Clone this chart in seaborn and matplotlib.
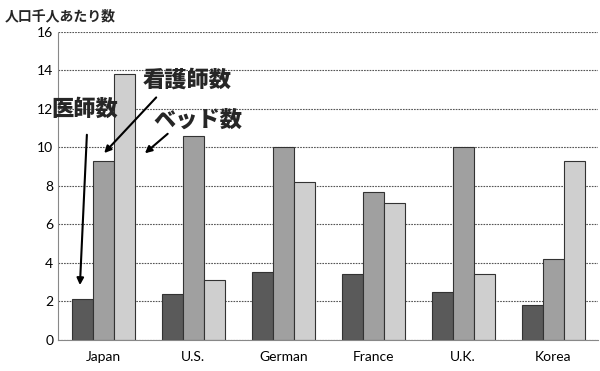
import matplotlib
matplotlib.use('Agg')
import matplotlib.pyplot as plt
import pandas as pd
import seaborn as sns

countries = ['Japan', 'U.S.', 'German', 'France', 'U.K.', 'Korea']
doctors = [2.1, 2.4, 3.5, 3.4, 2.5, 1.8]
nurses = [9.3, 10.6, 10.0, 7.7, 10.0, 4.2]
beds = [13.8, 3.1, 8.2, 7.1, 3.4, 9.3]
series = ['医師数', '看護師数', 'ベッド数']

df = pd.DataFrame({'country': countries * 3,
                   'kind': [series[0]] * 6 + [series[1]] * 6 + [series[2]] * 6,
                   'value': doctors + nurses + beds})

sns.set_style('white')
plt.rcParams['font.family'] = ['Lato', 'Noto Sans CJK JP', 'DejaVu Sans']

fig = plt.figure(figsize=(6, 3.71), dpi=100)
ax = fig.add_axes([0.097, 0.084, 0.9, 0.83])

sns.barplot(data=df, x='country', y='value', hue='kind',
            palette=['#5a5a5a', '#a0a0a0', '#cfcfcf'],
            width=0.7, edgecolor='#333333', linewidth=0.8,
            saturation=1, legend=False, ax=ax)

ax.set_ylim(0, 16)
ax.set_yticks(range(0, 17, 2))
ax.set_xlim(-0.5, 5.5)
ax.set_xlabel('')
ax.set_ylabel('')
ax.yaxis.grid(True, linestyle=(0, (1.5, 1)), color='#555555', linewidth=0.8)
ax.set_axisbelow(True)
for s in ['top', 'right']:
    ax.spines[s].set_visible(False)
for s in ['left', 'bottom']:
    ax.spines[s].set_linestyle((0, (1.5, 1)))
    ax.spines[s].set_color('#888888')
ax.tick_params(axis='both', length=0, labelsize=10, colors='black')
ax.tick_params(axis='x', pad=8)

jp = ['Noto Sans CJK JP', 'DejaVu Sans']
fig.text(0.008, 0.955, '人口千人あたり数', fontsize=10, fontweight='bold',
         family=jp, va='center', ha='left')

ax.annotate('', xy=(-0.26, 2.7), xytext=(-0.18, 10.8),
            arrowprops=dict(arrowstyle='-|>', color='black', lw=1.5))
ax.annotate('', xy=(-0.01, 9.6), xytext=(0.61, 12.7),
            arrowprops=dict(arrowstyle='-|>', color='black', lw=1.5))
ax.annotate('', xy=(0.44, 9.6), xytext=(0.74, 10.8),
            arrowprops=dict(arrowstyle='-|>', color='black', lw=1.5))
ax.text(-0.2, 12.0, '医師数', fontsize=16, fontweight='black', family=jp,
        ha='center', va='center')
ax.text(0.93, 13.5, '看護師数', fontsize=16, fontweight='black', family=jp,
        ha='center', va='center')
ax.text(1.05, 11.4, 'ベッド数', fontsize=16, fontweight='black', family=jp,
        ha='center', va='center')

fig.savefig('out.png', dpi=100)
